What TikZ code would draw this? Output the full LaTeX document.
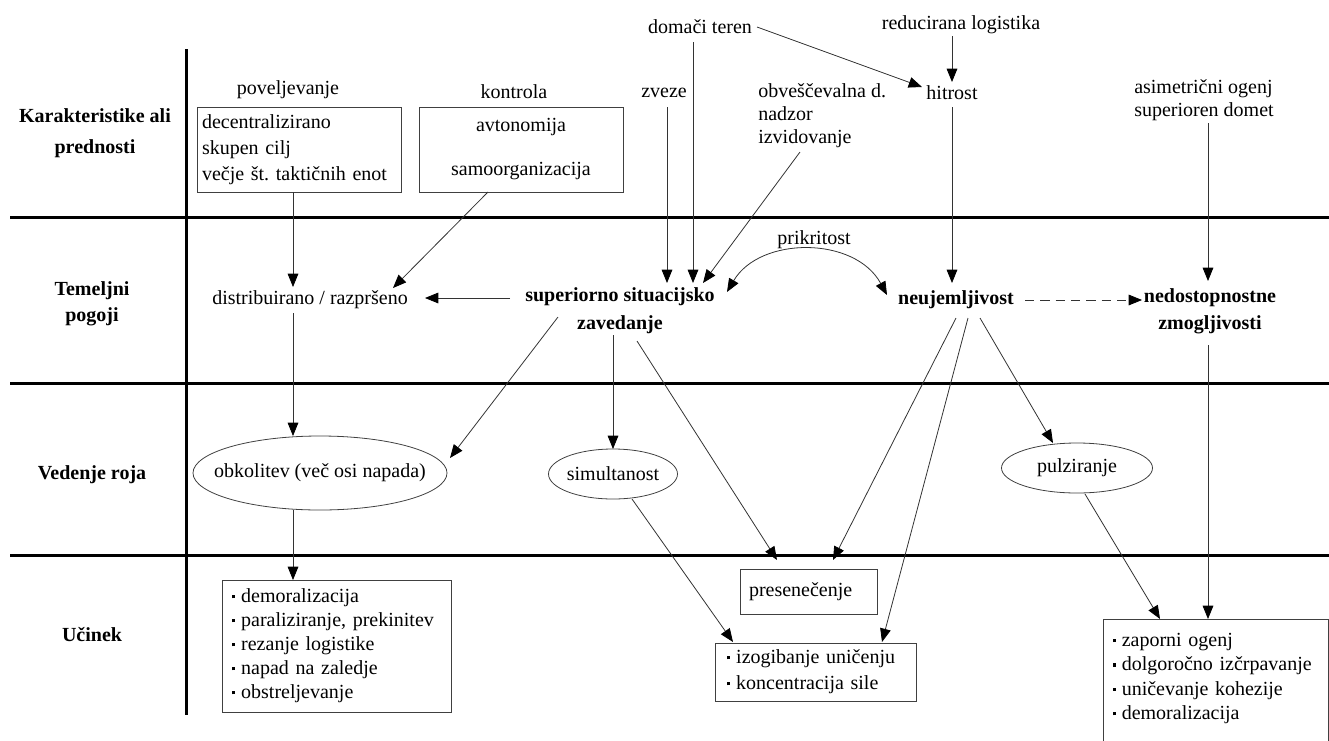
\documentclass[tikz,border=0pt]{standalone}
\usepackage{fontspec}
\setmainfont{Liberation Serif}
\usetikzlibrary{arrows.meta,shapes.geometric,calc}
\newcommand\myfs{\fontsize{15}{19.5}\selectfont}
\newcommand\mybul{\rule[0.22em]{2.4pt}{2.4pt}\hspace{4.5pt}}
\begin{document}
\begin{tikzpicture}[x=0.75pt,y=-0.75pt,
  txt/.style={inner sep=1.5pt,font=\myfs},
  lab/.style={inner sep=0pt,font=\myfs\bfseries,align=center},
  bold/.style={inner sep=1.5pt,font=\myfs\bfseries,align=center},
  boxn/.style={draw=black!75,line width=0.6pt,font=\myfs,align=left,inner ysep=0pt},
  boxline/.style={draw=black!75,line width=0.6pt},
  ell/.style={draw=black!75,line width=0.6pt,ellipse,inner sep=0pt,font=\myfs},
  divl/.style={line width=2.25pt,black},
  conn/.style={draw=black!80,line width=0.6pt},
  tip/.tip={Triangle[length=10pt,width=8pt,color=black]},
  arr/.style={conn,-tip},
]
\useasboundingbox (0,0) rectangle (1329,740);
\clip (0,0) rectangle (1329,740);
% dividers
\draw[divl] (10,217) -- (1329,217);
\draw[divl] (10,383) -- (1329,383);
\draw[divl] (10,555) -- (1329,555);
\draw[divl] (186,49) -- (186,715);
% row labels
\node[lab,font=\fontsize{15}{23.25}\selectfont\bfseries] (r1) at (95,133) {Karakteristike ali\\prednosti};
\node[lab] (r2) at (92,304) {Temeljni\\pogoji};
\node[lab] (r3) at (92,475) {Vedenje roja};
\node[lab] (r4) at (92,635) {Učinek};
% top row
\node[txt] (povelj) at (288,90) {poveljevanje};
\node[boxn,text width=145.5pt,inner xsep=3.75pt,minimum height=63.75pt] (box1) at (299,149.5) {decentralizirano\\skupen~cilj\\večje~št.~taktičnih~enot};
\node[txt] (kontr) at (514,92) {kontrola};
\node[boxn,align=center,text width=144pt,inner xsep=4.5pt,minimum height=63.75pt] (box2) at (521,149.5) {avtonomija\\[13.5pt]samoorganizacija};
\node[txt] (zveze) at (664,93) {zveze};
\node[txt] (domaci) at (700,27) {domači teren};
\node[txt,anchor=west,align=left,inner sep=0pt,font=\fontsize{15}{17.25}\selectfont] (obves) at (758,116) {obveščevalna d.\\nadzor\\izvidovanje};
\node[txt] (redlog) at (961,25) {reducirana logistika};
\node[txt] (hitrost) at (952,93) {hitrost};
\node[txt,anchor=west,align=left,inner sep=0pt,font=\fontsize{15}{17.25}\selectfont] (asim) at (1134,100) {asimetrični ogenj\\superioren domet};
% second row
\node[bold,font=\fontsize{15}{21}\selectfont\bfseries] (sup) at (620,311) {superiorno situacijsko\\zavedanje};
\node[txt] (distr) at (310,300) {distribuirano / razpršeno};
\node[txt] (prikr) at (814,240) {prikritost};
\node[bold] (neuj) at (956,300) {neujemljivost};
\node[bold,font=\fontsize{15}{20.25}\selectfont\bfseries] (nedost) at (1210,311) {nedostopnostne\\zmogljivosti};
% third row
\node[ell,minimum width=190.5pt,minimum height=55.5pt] (obkol) at (320,473) {\makebox[0pt]{obkolitev (več osi napada)}};
\node[ell,minimum width=96.75pt,minimum height=37.5pt] (simult) at (613,474) {\makebox[0pt]{simultanost}};
\node[ell,minimum width=113.25pt,minimum height=37.5pt] (pulz) at (1077,468) {\makebox[0pt]{pulziranje}};
% fourth row
\node[boxn,text width=156.75pt,inner xsep=7.5pt,minimum height=99pt,font=\fontsize{15}{18}\selectfont] (demor) at (336.5,646) {\mybul demoralizacija\\\mybul paraliziranje,~prekinitev\\\mybul rezanje~logistike\\\mybul napad~na~zaledje\\\mybul obstreljevanje};
\node[boxn,text width=89.25pt,inner xsep=6.75pt,minimum height=33.75pt] (presen) at (808.5,591.5) {presenečenje};
\node[boxn,text width=132.75pt,inner xsep=9pt,minimum height=43.5pt] (izog) at (815.5,672) {\mybul izogibanje~uničenju\\\mybul koncentracija~sile};
\node[txt,anchor=north west,align=left,text width=154.75pt,inner xsep=7pt,inner ysep=10.5pt,font=\fontsize{15}{18.3}\selectfont] (zapor) at (1103,619) {\mybul zaporni~ogenj\\\mybul dolgoročno~izčrpavanje\\\mybul uničevanje~kohezije\\\mybul demoralizacija};
\draw[boxline] ([yshift=-150pt]zapor.north west) -- (zapor.north west) -- (zapor.north east) -- ([yshift=-150pt]zapor.north east);
% connectors
\draw[arr] ($(box1)+(-6,42.5)$) -- ($(distr)+(-17,-13)$);
\draw[arr] ($(box2)+(-33,42.5)$) -- ($(distr)+(83,-12)$);
\draw[arr] ($(zveze)+(3,14)$) -- ($(sup)+(47,-28)$);
\draw[arr] ($(domaci)+(-7,15)$) -- ($(sup)+(73,-28)$);
\draw[arr] ($(obves.west)+(42,36)$) -- ($(sup)+(83,-28)$);
\draw[arr] ($(domaci)+(57,0)$) -- ($(hitrost)+(-30,-6)$);
\draw[arr] ($(redlog)+(-9,11)$) -- ($(hitrost)+(0,-11)$);
\draw[arr] ($(hitrost)+(0,14)$) -- ($(neuj)+(-4,-17)$);
\draw[arr] ($(asim.west)+(74,23)$) -- ($(nedost)+(-2,-30)$);
\draw[arr] ($(sup)+(-110,-13)$) -- ($(distr)+(115,-2)$);
\draw[conn,tip-tip] ($(sup)+(107,-19)$) .. controls +(33,-56) and +(-32,-59) .. ($(neuj)+(-69,-5)$);
\draw[arr,dash pattern=on 7pt off 4.5pt] ($(neuj)+(69,0)$) -- ($(nedost)+(-68,-11)$);
\draw[arr] ($(distr)+(-17,13)$) -- ($(obkol)+(-27,-37)$);
\draw[arr] ($(sup)+(-62,6)$) -- ($(obkol)+(130,-15)$);
\draw[arr] ($(sup)+(-7,24)$) -- ($(simult)+(0,-25)$);
\draw[arr] ($(sup)+(17,30)$) -- ($(presen)+(-31.5,-31.5)$);
\draw[arr] ($(neuj)+(0,18)$) -- ($(presen)+(24.5,-31.5)$);
\draw[arr] ($(neuj)+(12,18)$) -- ($(izog)+(66.5,-30)$);
\draw[arr] ($(neuj)+(24,18)$) -- ($(pulz)+(-24,-25)$);
\draw[arr] ($(simult)+(19,25)$) -- ($(izog)+(-82.5,-30)$);
\draw[arr] ($(obkol)+(-27,37)$) -- ($(demor)+(-43.5,-66)$);
\draw[arr] ($(pulz)+(8,26)$) -- ($(zapor.north west)+(57,0)$);
\draw[arr] ($(nedost)+(-2,34)$) -- ($(zapor.north west)+(105,0)$);
\end{tikzpicture}
\end{document}
